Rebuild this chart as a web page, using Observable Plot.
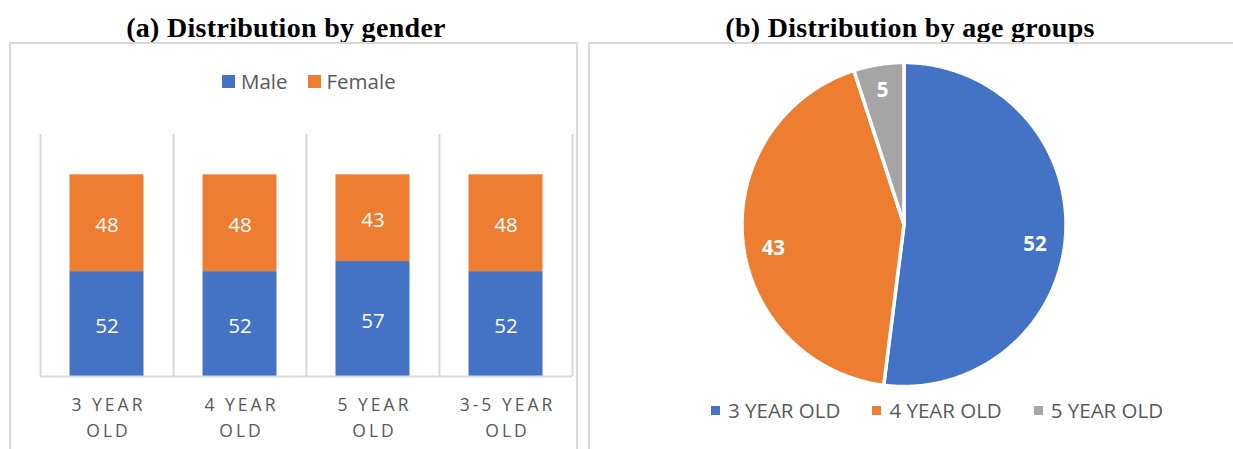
<!DOCTYPE html>
<html>
<head>
<meta charset="utf-8">
<script src="https://cdn.jsdelivr.net/npm/d3@7"></script>
<script src="https://cdn.jsdelivr.net/npm/@observablehq/plot@0.6"></script>
<style>
  html, body { margin: 0; padding: 0; background: #fff; }
  body { width: 1233px; height: 449px; overflow: hidden; position: relative; font-family: "Open Sans", sans-serif; }
  .title { position: absolute; top: 14px; transform: translateX(-50%); white-space: nowrap; line-height: 1;
           font-family: "Liberation Serif", serif; font-weight: bold; font-size: 28px; letter-spacing: 0.3px; color: #000; }
  .panel { position: absolute; border: 2px solid #d9d9d9; border-bottom: none; box-sizing: border-box; }
  .legend { position: absolute; display: flex; align-items: center; white-space: nowrap; color: #595959; line-height: 1; }
  .legend .item { display: flex; align-items: center; }
  .legend .sw { display: inline-block; }
  #bar, #pie { position: absolute; }
  #bar g[aria-label="x-axis tick label"] text { letter-spacing: 3px; }
</style>
</head>
<body>
<div class="title" style="left:286px">(a)  Distribution by gender</div>
<div class="title" style="left:910px">(b)  Distribution by age groups</div>
<div class="panel" style="left:9px;top:42px;width:569px;height:420px"></div>
<div class="panel" style="left:588px;top:42px;width:660px;height:420px"></div>
<div class="legend" id="barLegend" style="left:222px;top:71px;font-size:20.5px"></div>
<div class="legend" id="pieLegend" style="left:711px;top:400px;font-size:20.5px"></div>
<div id="bar" style="left:10px;top:43px"></div>
<div id="pie" style="left:590px;top:43px"></div>
<script>
// ---- data ----
const ageGroups = ["3 YEAR OLD", "4 YEAR OLD", "5 YEAR OLD", "3-5 YEAR OLD"];
const genders = ["Male", "Female"];
const maleShare = [52, 52, 57, 52];
const femaleShare = [48, 48, 43, 48];
const genderColors = ["#4472C4", "#ED7D31"];

const pieGroups = ["3 YEAR OLD", "4 YEAR OLD", "5 YEAR OLD"];
const pieShare = [52, 43, 5];
const pieColors = ["#4472C4", "#ED7D31", "#A5A5A5"];

// ---- bar chart ----
const barData = ageGroups.flatMap((g, i) => [
  {group: g, gender: genders[0], value: maleShare[i]},
  {group: g, gender: genders[1], value: femaleShare[i]}
]);
const W1 = 568, H1 = 406, mL1 = 30, mR1 = 6, mT1 = 91, mB1 = 73;
const step = (W1 - mL1 - mR1) / ageGroups.length;
const bar = Plot.plot({
  width: W1, height: H1,
  marginLeft: mL1, marginRight: mR1, marginTop: mT1, marginBottom: mB1,
  style: {fontFamily: "'Open Sans', sans-serif", background: "transparent"},
  x: {domain: ageGroups, padding: 0},
  y: {domain: [0, 120], axis: null},
  color: {domain: genders, range: genderColors},
  marks: [
    Plot.ruleX(ageGroups, {x: d => d, dx: -step / 2, stroke: "#d9d9d9", strokeWidth: 2}),
    Plot.ruleX(ageGroups.slice(-1), {x: d => d, dx: step / 2, stroke: "#d9d9d9", strokeWidth: 2}),
    Plot.barY(barData, {x: "group", y: "value", fill: "gender", insetLeft: 29.5, insetRight: 29.5}),
    Plot.text(barData, Plot.stackY({x: "group", y: "value", text: d => String(d.value), fill: "white", fontSize: 20.5, dy: 2})),
    Plot.ruleY([0], {stroke: "#d9d9d9", strokeWidth: 2}),
    Plot.axisX({tickSize: 0, tickPadding: 16, fontSize: 17.5, fill: "#595959", label: null, dx: 1.5,
      lineHeight: 1.5, tickFormat: d => d.replace(" OLD", "\nOLD")})
  ]
});
document.getElementById("bar").appendChild(bar);

// ---- pie chart ----
const total = d3.sum(pieShare);
let acc = 0;
const arcs = pieGroups.map((g, i) => {
  const a0 = acc / total * 2 * Math.PI;
  acc += pieShare[i];
  const a1 = acc / total * 2 * Math.PI;
  return {group: g, value: pieShare[i], a0, a1, mid: (a0 + a1) / 2};
});
const piePts = arcs.flatMap(s => {
  const n = Math.max(4, Math.ceil((s.a1 - s.a0) / 0.01));
  const pts = [{group: s.group, x: 0, y: 0}];
  for (let k = 0; k <= n; k++) {
    const a = s.a0 + (s.a1 - s.a0) * k / n;
    pts.push({group: s.group, x: Math.sin(a), y: Math.cos(a)});
  }
  pts.push({group: s.group, x: 0, y: 0});
  return pts;
});
const W2 = 643, H2 = 350, R = 162, cx = 313.5, cy = 181;
const labelOpts = {x: d => 0.81 * Math.sin(d.mid), y: d => 0.81 * Math.cos(d.mid), text: d => String(d.value),
  fill: "white", fontWeight: "bold", fontSize: 20.5};
const pie = Plot.plot({
  width: W2, height: H2,
  marginLeft: cx - R, marginRight: W2 - cx - R, marginTop: cy - R, marginBottom: H2 - cy - R,
  style: {fontFamily: "'Open Sans', sans-serif", background: "transparent"},
  x: {domain: [-1, 1], axis: null},
  y: {domain: [-1, 1], axis: null},
  color: {domain: pieGroups, range: pieColors},
  marks: [
    Plot.line(piePts, {x: "x", y: "y", z: "group", fill: "group", stroke: "white", strokeWidth: 3.5, strokeLinejoin: "miter"}),
    Plot.text(arcs.filter(d => d.value >= 20), {...labelOpts, dy: 12}),
    Plot.text(arcs.filter(d => d.value < 20), {...labelOpts, x: d => 0.84 * Math.sin(d.mid), y: d => 0.84 * Math.cos(d.mid)})
  ]
});
document.getElementById("pie").appendChild(pie);

// ---- legends ----
function buildLegend(el, names, colors, size, gap, itemGap) {
  names.forEach((n, i) => {
    const it = document.createElement("span");
    it.className = "item";
    if (i > 0) it.style.marginLeft = itemGap + "px";
    const sw = document.createElement("span");
    sw.className = "sw";
    sw.style.width = size + "px"; sw.style.height = size + "px";
    sw.style.background = colors[i];
    sw.style.marginRight = gap + "px";
    const tx = document.createElement("span");
    tx.textContent = n;
    it.appendChild(sw); it.appendChild(tx);
    el.appendChild(it);
  });
}
buildLegend(document.getElementById("barLegend"), genders, genderColors, 13, 6, 20);
buildLegend(document.getElementById("pieLegend"), pieGroups, pieColors, 9, 8, 32);
</script>
</body>
</html>
